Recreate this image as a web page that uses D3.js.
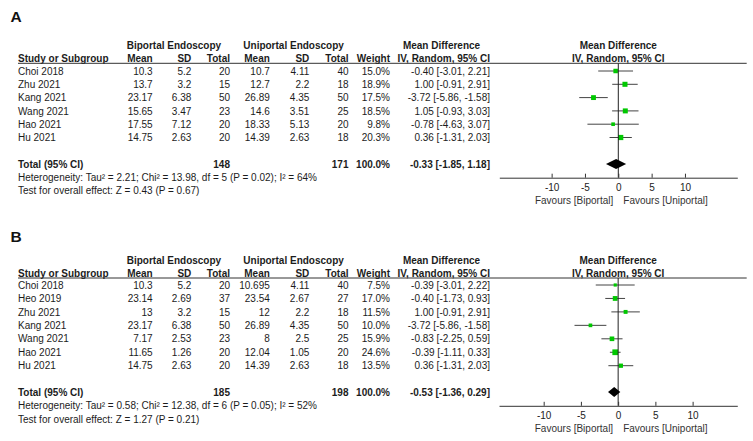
<!DOCTYPE html>
<html>
<head>
<meta charset="utf-8">
<script src="https://cdn.jsdelivr.net/npm/d3@7/dist/d3.min.js"></script>
<style>
  body { margin: 0; background: #fff; }
  svg { display: block; font-family: "Liberation Sans", Arial, sans-serif; }
</style>
</head>
<body>
<svg id="chart" width="753" height="441"></svg>
<script>
// ---------- Panel A data ----------
const studiesA = ["Choi 2018", "Zhu 2021", "Kang 2021", "Wang 2021", "Hao 2021", "Hu 2021"];
const bMeanA = [10.3, 13.7, 23.17, 15.65, 17.55, 14.75];
const bSdA   = [5.2, 3.2, 6.38, 3.47, 7.12, 2.63];
const bNA    = [20, 15, 50, 23, 20, 20];
const uMeanA = [10.7, 12.7, 26.89, 14.6, 18.33, 14.39];
const uSdA   = [4.11, 2.2, 4.35, 3.51, 5.13, 2.63];
const uNA    = [40, 18, 50, 25, 20, 18];
const weightA = [15.0, 18.9, 17.5, 18.5, 9.8, 20.3];
const mdA    = [-0.40, 1.00, -3.72, 1.05, -0.78, 0.36];
const loA    = [-3.01, -0.91, -5.86, -0.93, -4.63, -1.31];
const hiA    = [2.21, 2.91, -1.58, 3.03, 3.07, 2.03];
const totalA = { bN: 148, uN: 171, weight: 100.0, md: -0.33, lo: -1.85, hi: 1.18 };
const hetA = "Heterogeneity: Tau\u00B2 = 2.21; Chi\u00B2 = 13.98, df = 5 (P = 0.02); I\u00B2 = 64%";
const testA = "Test for overall effect: Z = 0.43 (P = 0.67)";

// ---------- Panel B data ----------
const studiesB = ["Choi 2018", "Heo 2019", "Zhu 2021", "Kang 2021", "Wang 2021", "Hao 2021", "Hu 2021"];
const bMeanB = [10.3, 23.14, 13, 23.17, 7.17, 11.65, 14.75];
const bSdB   = [5.2, 2.69, 3.2, 6.38, 2.53, 1.26, 2.63];
const bNB    = [20, 37, 15, 50, 23, 20, 20];
const uMeanB = [10.695, 23.54, 12, 26.89, 8, 12.04, 14.39];
const uSdB   = [4.11, 2.67, 2.2, 4.35, 2.5, 1.05, 2.63];
const uNB    = [40, 27, 18, 50, 25, 20, 18];
const weightB = [7.5, 17.0, 11.5, 10.0, 15.9, 24.6, 13.5];
const mdB    = [-0.39, -0.40, 1.00, -3.72, -0.83, -0.39, 0.36];
const loB    = [-3.01, -1.73, -0.91, -5.86, -2.25, -1.11, -1.31];
const hiB    = [2.22, 0.93, 2.91, -1.58, 0.59, 0.33, 2.03];
const totalB = { bN: 185, uN: 198, weight: 100.0, md: -0.53, lo: -1.36, hi: 0.29 };
const hetB = "Heterogeneity: Tau\u00B2 = 0.58; Chi\u00B2 = 12.38, df = 6 (P = 0.05); I\u00B2 = 52%";
const testB = "Test for overall effect: Z = 1.27 (P = 0.21)";

const tickValues = [-10, -5, 0, 5, 10];
const favourLeft = "Favours [Biportal]";
const favourRight = "Favours [Uniportal]";

// ---------- drawing ----------
const svg = d3.select("#chart");
const TXT = "#1c1c1c";
const f2 = v => d3.format(".2f")(v).replace("\u2212", "-");
const ciText = (m, l, h) => `${f2(m)} [${f2(l)}, ${f2(h)}]`;
const sizeScale = d3.scaleSqrt().domain([0, 25]).range([0, 5.8]);

const cols = [
  { key: "bMean", x: 152.7, head: "Mean" },
  { key: "bSd",   x: 191.3, head: "SD" },
  { key: "bN",    x: 230,   head: "Total" },
  { key: "uMean", x: 269.8, head: "Mean" },
  { key: "uSd",   x: 309.3, head: "SD" },
  { key: "uN",    x: 348.5, head: "Total" },
  { key: "weight", x: 390,  head: "Weight" },
  { key: "ci",    x: 490,   head: "IV, Random, 95% CI" }
];

function drawPanel(p) {
  const g = svg.append("g");
  const rows = p.studies.map((s, i) => ({
    study: s,
    bMean: String(p.bMean[i]), bSd: String(p.bSd[i]), bN: String(p.bN[i]),
    uMean: String(p.uMean[i]), uSd: String(p.uSd[i]), uN: String(p.uN[i]),
    weight: d3.format(".1f")(p.weight[i]) + "%",
    ci: ciText(p.md[i], p.lo[i], p.hi[i]),
    md: p.md[i], lo: p.lo[i], hi: p.hi[i], w: p.weight[i], i
  }));
  const x = d3.scaleLinear().domain(p.domain).range([p.x0, p.x1]);
  const y = d3.scaleLinear().domain([0, rows.length - 1]).range([p.yFirst, p.yLast]);
  const base = 3.6;

  // panel label
  g.append("text").attr("x", 10.5).attr("y", p.labelY)
    .attr("font-size", 15.5).attr("font-weight", "bold").attr("fill", "#111").text(p.label);

  // header row 1
  const h1 = p.head1 + base;
  g.append("text").attr("x", 126.7).attr("y", h1).attr("font-size", 10).attr("font-weight", "bold").attr("fill", TXT).text("Biportal Endoscopy");
  g.append("text").attr("x", 243.3).attr("y", h1).attr("font-size", 10).attr("font-weight", "bold").attr("fill", TXT).text("Uniportal Endoscopy");
  g.append("text").attr("x", 441.5).attr("y", h1).attr("text-anchor", "middle").attr("font-size", 10).attr("font-weight", "bold").attr("fill", TXT).text("Mean Difference");
  g.append("text").attr("x", x(0)).attr("y", h1).attr("text-anchor", "middle").attr("font-size", 10).attr("font-weight", "bold").attr("fill", TXT).text("Mean Difference");

  // header row 2
  const h2 = p.head2 + base;
  g.append("text").attr("x", 18).attr("y", h2).attr("font-size", 10).attr("font-weight", "bold").attr("fill", TXT).text("Study or Subgroup");
  cols.forEach(c => {
    g.append("text").attr("x", c.x).attr("y", h2).attr("text-anchor", "end")
      .attr("font-size", 10).attr("font-weight", "bold").attr("fill", TXT).text(c.head);
  });
  g.append("text").attr("x", x(0)).attr("y", h2).attr("text-anchor", "middle").attr("font-size", 10).attr("font-weight", "bold").attr("fill", TXT).text("IV, Random, 95% CI");

  // header line
  g.append("line").attr("x1", 18).attr("x2", 746.7).attr("y1", p.lineY).attr("y2", p.lineY)
    .attr("stroke", "#333").attr("stroke-width", 1);

  // study rows text
  const rg = g.selectAll("g.row").data(rows).join("g").attr("class", "row");
  rg.append("text").attr("x", 18).attr("y", d => y(d.i) + base)
    .attr("font-size", 10).attr("fill", TXT).text(d => d.study);
  cols.forEach(c => {
    rg.append("text").attr("x", c.x).attr("y", d => y(d.i) + base).attr("text-anchor", "end")
      .attr("font-size", 10).attr("fill", TXT).text(d => d[c.key]);
  });

  // zero line
  g.append("line").attr("x1", x(0)).attr("x2", x(0)).attr("y1", p.lineY).attr("y2", p.axisY)
    .attr("stroke", "#222").attr("stroke-width", 1);

  // CI lines and squares
  rg.append("line").attr("x1", d => x(d.lo)).attr("x2", d => x(d.hi))
    .attr("y1", d => y(d.i)).attr("y2", d => y(d.i)).attr("stroke", "#444").attr("stroke-width", 1);
  rg.append("rect")
    .attr("x", d => x(d.md) - sizeScale(d.w) / 2).attr("y", d => y(d.i) - sizeScale(d.w) / 2)
    .attr("width", d => sizeScale(d.w)).attr("height", d => sizeScale(d.w))
    .attr("fill", "#00c800");

  // total row
  const tb = p.totalY + base;
  const tot = p.total;
  g.append("text").attr("x", 18).attr("y", tb).attr("font-size", 10).attr("font-weight", "bold").attr("fill", TXT).text("Total (95% CI)");
  [[230, String(tot.bN)], [348.5, String(tot.uN)], [390, d3.format(".1f")(tot.weight) + "%"], [490, ciText(tot.md, tot.lo, tot.hi)]]
    .forEach(([cx, t]) => g.append("text").attr("x", cx).attr("y", tb).attr("text-anchor", "end")
      .attr("font-size", 10).attr("font-weight", "bold").attr("fill", TXT).text(t));

  // diamond
  const dh = 5;
  g.append("path")
    .attr("d", `M${x(tot.lo)},${p.totalY}L${x(tot.md)},${p.totalY - dh}L${x(tot.hi)},${p.totalY}L${x(tot.md)},${p.totalY + dh}Z`)
    .attr("fill", "#000");

  // heterogeneity & test
  g.append("text").attr("x", 18).attr("y", p.hetY + base).attr("font-size", 10).attr("fill", TXT).text(p.het);
  g.append("text").attr("x", 18).attr("y", p.testY + base).attr("font-size", 10).attr("fill", TXT).text(p.test);

  // axis
  const ax = g.append("g").attr("transform", `translate(0,${p.axisY})`)
    .call(d3.axisBottom(x).tickValues(tickValues).tickSize(-4).tickSizeOuter(0).tickPadding(6).tickFormat(d => String(d)));
  ax.select(".domain").attr("stroke", "#333");
  ax.selectAll(".tick line").attr("stroke", "#333");
  ax.selectAll(".tick text").attr("font-size", 10).attr("fill", "#222").attr("font-family", "Liberation Sans, Arial, sans-serif");

  // favours labels
  g.append("text").attr("x", x(0) - 5).attr("y", p.axisY + 26.6).attr("text-anchor", "end")
    .attr("font-size", 10).attr("fill", "#333").text(favourLeft);
  g.append("text").attr("x", x(0) + 5).attr("y", p.axisY + 26.6).attr("text-anchor", "start")
    .attr("font-size", 10).attr("fill", "#333").text(favourRight);
}

drawPanel({
  label: "A", labelY: 21.5,
  studies: studiesA, bMean: bMeanA, bSd: bSdA, bN: bNA, uMean: uMeanA, uSd: uSdA, uN: uNA,
  weight: weightA, md: mdA, lo: loA, hi: hiA, total: totalA, het: hetA, test: testA,
  domain: [-17.85, 17.85], x0: 499.3, x1: 737.3,
  head1: 45.3, head2: 58.5, lineY: 63.3, yFirst: 71, yLast: 137.5,
  totalY: 164, hetY: 177.5, testY: 190.3, axisY: 177.7
});

drawPanel({
  label: "B", labelY: 242,
  studies: studiesB, bMean: bMeanB, bSd: bSdB, bN: bNB, uMean: uMeanB, uSd: uSdB, uN: uNB,
  weight: weightB, md: mdB, lo: loB, hi: hiB, total: totalB, het: hetB, test: testB,
  domain: [-16, 16], x0: 499, x1: 737.3,
  head1: 260.7, head2: 273.4, lineY: 278, yFirst: 285, yLast: 365.7,
  totalY: 392, hetY: 405.8, testY: 419, axisY: 405.8
});
</script>
</body>
</html>
